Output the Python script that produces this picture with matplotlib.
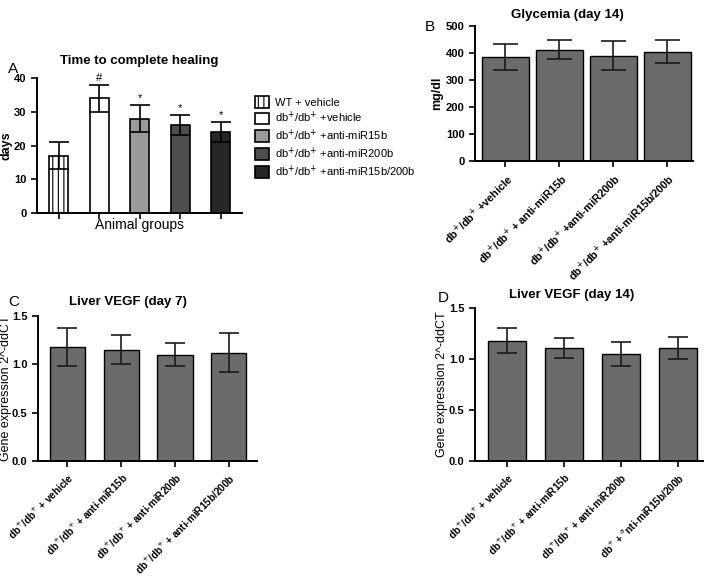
import matplotlib
matplotlib.use("Agg")
import matplotlib.pyplot as plt
import numpy as np

plt.rcParams['font.family'] = ['Liberation Sans', 'DejaVu Sans']
plt.rcParams['hatch.linewidth'] = 0.8

# Panel A data
a_groups = ["WT + vehicle", "db$^{+}$/db$^{+}$ +vehicle", "db$^{+}$/db$^{+}$ +anti-miR15b",
            "db$^{+}$/db$^{+}$ +anti-miR200b", "db$^{+}$/db$^{+}$ +anti-miR15b/200b"]
a_vals = [17, 34, 28, 26, 24]
a_err = [4, 4, 4, 3, 3]
a_marks = ["", "#", "*", "*", "*"]
a_colors = ["white", "white", "#9a9a9a", "#4e4e4e", "#272727"]
a_hatches = ["|||", "", "", "", ""]

# Panel B data
b_labels = ["db$^{+}$/db$^{+}$ +vehicle", "db$^{+}$/db$^{+}$ + anti-miR15b",
            "db$^{+}$/db$^{+}$ +anti-miR200b", "db$^{+}$/db$^{+}$ +anti-miR15b/200b"]
b_vals = [385, 412, 390, 405]
b_err = [48, 35, 53, 42]

# Panel C data
c_labels = ["db$^{+}$/db$^{+}$ + vehicle", "db$^{+}$/db$^{+}$ + anti-miR15b",
            "db$^{+}$/db$^{+}$ + anti-miR200b", "db$^{+}$/db$^{+}$ + anti-miR15b/200b"]
c_vals = [1.18, 1.15, 1.10, 1.12]
c_err = [0.20, 0.15, 0.12, 0.20]

# Panel D data
d_labels = ["db$^{+}$/db$^{+}$ + vehicle", "db$^{+}$/db$^{+}$ + anti-miR15b",
            "db$^{+}$/db$^{+}$ + anti-miR200b", "db$^{+}$ + $^{a}$nti-miR15b/200b"]
d_vals = [1.18, 1.11, 1.05, 1.11]
d_err = [0.12, 0.10, 0.12, 0.11]

bar_gray = "#6b6b6b"
W, H = 709, 577
fig = plt.figure(figsize=(W / 100, H / 100), dpi=100)


def px_axes(l, r, t, b):
    return fig.add_axes([l / W, 1 - b / H, (r - l) / W, (b - t) / H])


def style(ax):
    for s in ["top", "right"]:
        ax.spines[s].set_visible(False)
    for s in ["left", "bottom"]:
        ax.spines[s].set_linewidth(1.4)
    ax.tick_params(axis="both", direction="out", width=1.2, length=4)
    ax.tick_params(axis="y", labelsize=8)
    for lab in ax.get_yticklabels():
        lab.set_fontweight("bold")


# ---------- Panel A ----------
axA = px_axes(37, 242, 78, 213)
style(axA)
xa = np.arange(len(a_vals))
for i in range(len(a_vals)):
    axA.bar(xa[i], a_vals[i], width=0.47, color=a_colors[i], edgecolor="black",
            linewidth=1.2, hatch=a_hatches[i], label=a_groups[i])
axA.errorbar(xa, a_vals, yerr=a_err, fmt="none", ecolor="black", elinewidth=1.2,
             capsize=7, capthick=1.2)
for i in range(len(a_vals)):
    if a_marks[i]:
        axA.text(xa[i], a_vals[i] + a_err[i] + 0.5, a_marks[i], ha="center",
                 va="bottom", fontsize=8)
axA.set_xlim(-0.54, 4.52)
axA.set_ylim(0, 40)
axA.set_yticks([0, 10, 20, 30, 40])
axA.set_yticklabels(["0", "10", "20", "30", "40"], fontweight="bold", fontsize=8)
axA.set_xticks(xa)
axA.set_xticklabels([])
axA.set_ylabel("days", fontsize=9, fontweight="bold")
axA.yaxis.set_label_coords((13 - 37) / 205, 0.5)
axA.set_xlabel("Animal groups", fontsize=10, labelpad=-4)
axA.set_title("Time to complete healing", fontsize=9.5, fontweight="bold", pad=10)
fig.text(8 / W, 1 - 69 / H, "A", fontsize=11, ha="left", va="center")
leg = axA.legend(loc="upper left", bbox_to_anchor=(1.04, 0.90), frameon=False,
                 fontsize=8, handlelength=1.3, handleheight=1.25, labelspacing=0.22,
                 handletextpad=0.5, borderaxespad=0)

# ---------- Panel B ----------
axB = px_axes(475, 693, 26, 161)
style(axB)
xb = np.arange(len(b_vals))
axB.bar(xb, b_vals, width=0.87, color=bar_gray, edgecolor="black", linewidth=1.0)
axB.errorbar(xb, b_vals, yerr=b_err, fmt="none", ecolor="#1a1a1a", elinewidth=1.2,
             capsize=9, capthick=1.2)
axB.set_xlim(-0.56, 3.48)
axB.set_ylim(0, 500)
axB.set_yticks([0, 100, 200, 300, 400, 500])
axB.set_yticklabels(["0", "100", "200", "300", "400", "500"], fontweight="bold", fontsize=8)
axB.set_xticks(xb)
axB.set_xticklabels(b_labels, rotation=45, ha="right", rotation_mode="anchor",
                    fontsize=7.8, fontweight="bold")
axB.set_ylabel("mg/dl", fontsize=9, fontweight="bold")
axB.yaxis.set_label_coords((443 - 475) / 218, 0.5)
fig.text(567 / W, 1 - 15 / H, "Glycemia (day 14)", fontsize=9.5,
         fontweight="bold", ha="center", va="center")
fig.text(430 / W, 1 - 27 / H, "B", fontsize=11, ha="center", va="center")

# ---------- Panel C ----------
axC = px_axes(38, 257, 316, 461)
style(axC)
xc = np.arange(len(c_vals))
axC.bar(xc, c_vals, width=0.65, color=bar_gray, edgecolor="black", linewidth=1.0)
axC.errorbar(xc, c_vals, yerr=c_err, fmt="none", ecolor="#1a1a1a", elinewidth=1.2,
             capsize=7, capthick=1.2)
axC.set_xlim(-0.54, 3.52)
axC.set_ylim(0, 1.5)
axC.set_yticks([0.0, 0.5, 1.0, 1.5])
axC.set_yticklabels(["0.0", "0.5", "1.0", "1.5"], fontweight="bold", fontsize=8)
axC.set_xticks(xc)
axC.set_xticklabels(c_labels, rotation=45, ha="right", rotation_mode="anchor",
                    fontsize=7.2, fontweight="bold")
axC.set_ylabel("Gene expression 2^-ddCT", fontsize=9)
axC.yaxis.set_label_coords((12 - 38) / 219, 0.5)
fig.text(128 / W, 1 - 302 / H, "Liver VEGF (day 7)", fontsize=9.5,
         fontweight="bold", ha="center", va="center")
fig.text(8 / W, 1 - 302 / H, "C", fontsize=11, ha="left", va="center")

# ---------- Panel D ----------
axD = px_axes(475, 703, 308, 461)
style(axD)
xd = np.arange(len(d_vals))
axD.bar(xd, d_vals, width=0.68, color=bar_gray, edgecolor="black", linewidth=1.0)
axD.errorbar(xd, d_vals, yerr=d_err, fmt="none", ecolor="#1a1a1a", elinewidth=1.2,
             capsize=7, capthick=1.2)
axD.set_xlim(-0.56, 3.44)
axD.set_ylim(0, 1.5)
axD.set_yticks([0.0, 0.5, 1.0, 1.5])
axD.set_yticklabels(["0.0", "0.5", "1.0", "1.5"], fontweight="bold", fontsize=8)
axD.set_xticks(xd)
axD.set_xticklabels(d_labels, rotation=45, ha="right", rotation_mode="anchor",
                    fontsize=7.2, fontweight="bold")
axD.set_ylabel("Gene expression 2^-ddCT", fontsize=9)
axD.yaxis.set_label_coords((448 - 475) / 228, 0.5)
fig.text(572 / W, 1 - 295 / H, "Liver VEGF (day 14)", fontsize=9.5,
         fontweight="bold", ha="center", va="center")
fig.text(443 / W, 1 - 298 / H, "D", fontsize=11, ha="center", va="center")

fig.savefig("out.png", dpi=100)
